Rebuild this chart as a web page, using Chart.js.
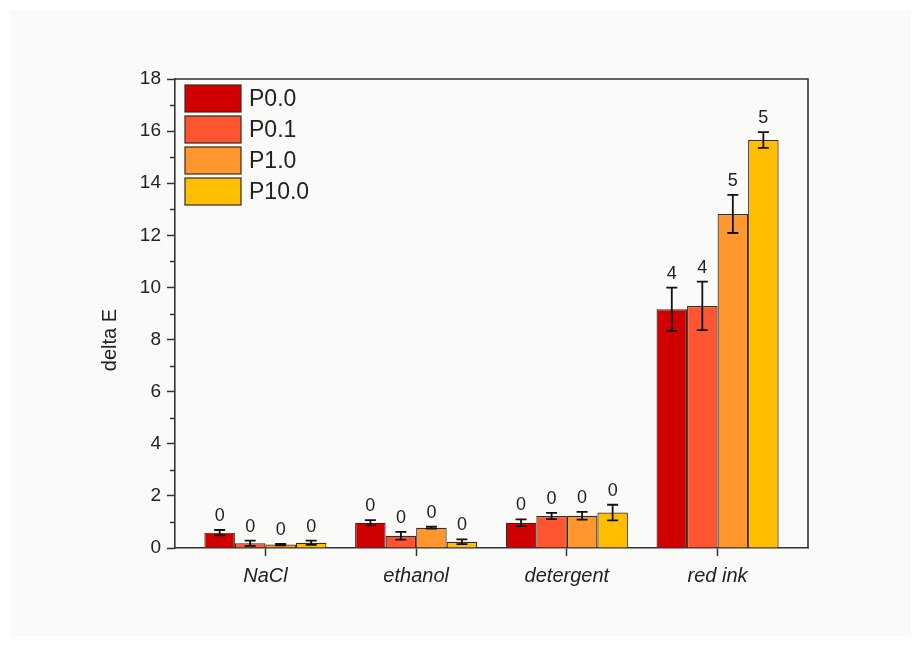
<!DOCTYPE html>
<html>
<head>
<meta charset="utf-8">
<script src="https://cdn.jsdelivr.net/npm/chart.js@4.4.1/dist/chart.umd.min.js"></script>
<style>
  html, body { margin: 0; padding: 0; background: #ffffff; }
  #wrap { position: absolute; left: 10px; top: 10px; width: 901px; height: 626px; background: #fafaf8; }
  canvas { display: block; }
</style>
</head>
<body>
<div id="wrap"><canvas id="c" width="901" height="626"></canvas></div>
<script>
const categories = ['NaCl', 'ethanol', 'detergent', 'red ink'];
const seriesNames = ['P0.0', 'P0.1', 'P1.0', 'P10.0'];
const colors = ['#d10000', '#ff5530', '#ff962e', '#ffbf00'];

const p00 = [0.59, 0.97, 0.97, 9.16];
const p01 = [0.18, 0.47, 1.23, 9.29];
const p10 = [0.13, 0.78, 1.24, 12.82];
const p100 = [0.20, 0.24, 1.36, 15.66];

const err00 = [0.10, 0.10, 0.13, 0.83];
const err01 = [0.10, 0.15, 0.12, 0.93];
const err10 = [0.03, 0.04, 0.15, 0.73];
const err100 = [0.08, 0.09, 0.30, 0.30];

const lab00 = ['0', '0', '0', '4'];
const lab01 = ['0', '0', '0', '4'];
const lab10 = ['0', '0', '0', '5'];
const lab100 = ['0', '0', '0', '5'];

const yTicks = [0, 2, 4, 6, 8, 10, 12, 14, 16, 18];
const yTitle = 'delta E';

const values = [p00, p01, p10, p100];
const errors = [err00, err01, err10, err100];
const barLabels = [lab00, lab01, lab10, lab100];

const FONT = "'Liberation Sans', Arial, sans-serif";
const INK = '#222222';
const LINE = '#333333';

const extras = {
  id: 'extras',
  afterDatasetsDraw(chart) {
    const ctx = chart.ctx;
    const y = chart.scales.y;
    const a = chart.chartArea;
    ctx.save();
    // error bars and count labels
    chart.data.datasets.forEach((ds, di) => {
      const meta = chart.getDatasetMeta(di);
      meta.data.forEach((bar, i) => {
        const v = values[di][i], e = errors[di][i];
        const yt = y.getPixelForValue(v + e);
        const yb = y.getPixelForValue(v - e);
        const x = bar.x;
        ctx.strokeStyle = '#111';
        ctx.lineWidth = 1.8;
        ctx.beginPath();
        ctx.moveTo(x, yt); ctx.lineTo(x, yb);
        ctx.moveTo(x - 5.5, yt); ctx.lineTo(x + 5.5, yt);
        ctx.moveTo(x - 5.5, yb); ctx.lineTo(x + 5.5, yb);
        ctx.stroke();
        ctx.fillStyle = INK;
        ctx.font = '18px ' + FONT;
        ctx.textAlign = 'center';
        ctx.textBaseline = 'bottom';
        ctx.fillText(barLabels[di][i], x, yt - 5);
      });
    });
    // minor ticks on y axis
    ctx.strokeStyle = LINE;
    ctx.lineWidth = 1.5;
    ctx.beginPath();
    for (let t = 1; t < 18; t += 2) {
      const py = Math.round(y.getPixelForValue(t)) + 0.5;
      ctx.moveTo(a.left - 5, py); ctx.lineTo(a.left, py);
    }
    ctx.stroke();
    // frame top and right
    ctx.lineWidth = 1.6;
    ctx.beginPath();
    ctx.moveTo(a.left, a.top); ctx.lineTo(a.right, a.top); ctx.lineTo(a.right, a.bottom);
    ctx.stroke();
    // y title
    ctx.save();
    ctx.translate(100, 330);
    ctx.rotate(-Math.PI / 2);
    ctx.fillStyle = INK;
    ctx.font = '20px ' + FONT;
    ctx.textAlign = 'center';
    ctx.textBaseline = 'middle';
    ctx.fillText(yTitle, 0, 0);
    ctx.restore();
    // legend
    const bx = a.left + 10, by0 = a.top + 6, bw = 56, bh = 27, step = 31;
    chart.data.datasets.forEach((ds, di) => {
      const by = by0 + di * step;
      ctx.fillStyle = ds.backgroundColor;
      ctx.fillRect(bx, by, bw, bh);
      ctx.strokeStyle = '#3a2a20';
      ctx.lineWidth = 1.2;
      ctx.strokeRect(bx, by, bw, bh);
      ctx.fillStyle = INK;
      ctx.font = '23px ' + FONT;
      ctx.textAlign = 'left';
      ctx.textBaseline = 'middle';
      ctx.fillText(ds.label, bx + bw + 8, by + bh / 2 + 1);
    });
    ctx.restore();
  }
};

new Chart(document.getElementById('c'), {
  type: 'bar',
  data: {
    datasets: seriesNames.map((name, di) => ({
      label: name,
      data: values[di].map((v, i) => ({ x: i, y: v })),
      backgroundColor: colors[di],
      borderColor: '#3a2a20',
      borderWidth: 1.2,
      categoryPercentage: 0.81,
      barPercentage: 1.0
    }))
  },
  options: {
    responsive: false,
    devicePixelRatio: 1,
    animation: false,
    layout: { padding: { left: 85, right: 103, top: 69, bottom: 48 } },
    plugins: { legend: { display: false }, tooltip: { enabled: false } },
    scales: {
      x: {
        type: 'linear',
        min: -0.6,
        max: 3.6,
        offset: false,
        afterBuildTicks: s => { s.ticks = categories.map((c, i) => ({ value: i })); },
        afterFit: s => { s.height = 40; },
        ticks: {
          callback: v => categories[v],
          font: { family: FONT, size: 20, style: 'italic' },
          color: INK,
          padding: 8,
          maxRotation: 0,
          autoSkip: false
        },
        grid: { offset: false, drawOnChartArea: false, drawTicks: true, tickLength: 8, tickColor: LINE, tickWidth: 1.5 },
        border: { display: true, color: LINE, width: 1.6 }
      },
      y: {
        min: 0,
        max: 18,
        afterBuildTicks: s => { s.ticks = yTicks.map(v => ({ value: v })); },
        afterFit: s => { s.width = 80; },
        ticks: {
          font: { family: FONT, size: 19 },
          color: INK,
          padding: 6
        },
        grid: { drawOnChartArea: false, drawTicks: true, tickLength: 8, tickColor: LINE, tickWidth: 1.5 },
        border: { display: true, color: LINE, width: 1.6 }
      }
    }
  },
  plugins: [extras]
});
</script>
</body>
</html>
